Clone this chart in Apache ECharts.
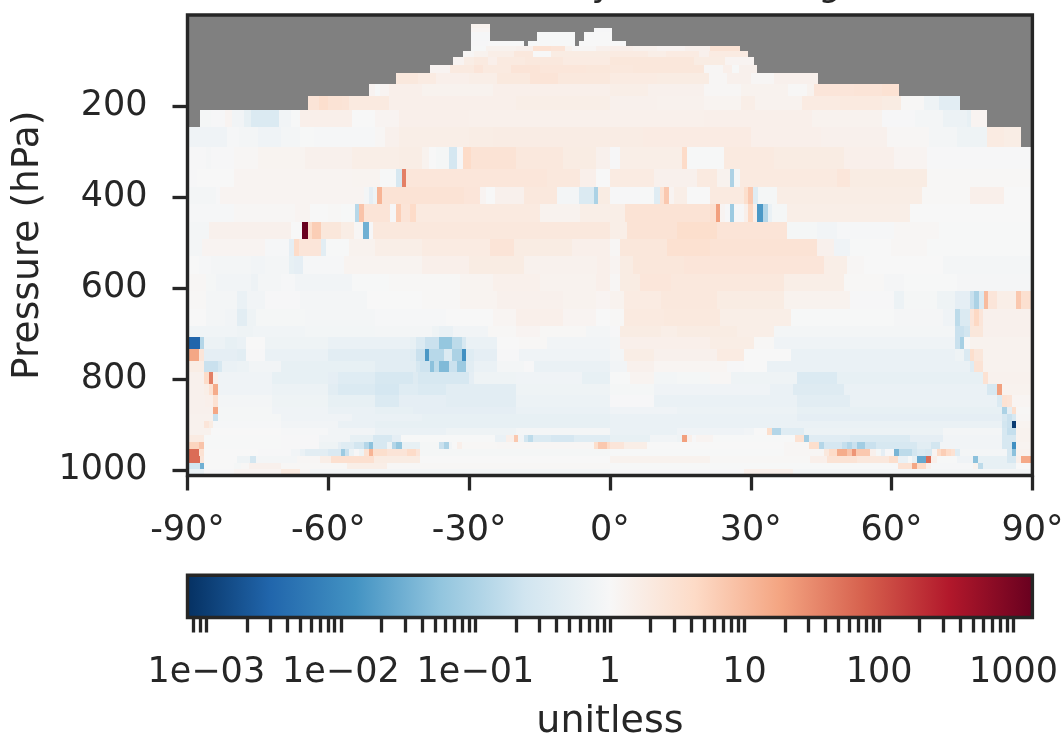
<!DOCTYPE html>
<html><head><meta charset="utf-8">
<style>html,body{margin:0;padding:0;background:#fff}#c{width:1063px;height:735px}</style>
<script src="https://cdn.jsdelivr.net/npm/echarts@6/dist/echarts.min.js"></script>
</head><body><div id="c"></div>
<script>
// Pressure edges of the rows (hPa), top to bottom
const pressureEdges=[19.8,28.6,37.4,57.8,68.1,79.1,92.3,109.9,127.5,151.6,178,208.8,246.2,290.1,338.5,378,415.4,454.9,492.3,529.7,569.2,606.6,646.2,683.5,707.7,734.1,760.4,784.6,811,835.2,861.5,876.9,892.3,907.7,923.1,938.5,953.8,969.2,984.6,997.8,1008.8];
const latTicks=[-90,-60,-30,0,30,60,90];
const pressureTicks=[200,400,600,800,1000];
const ratioLabels=[[0.001,'1e\u221203'],[0.01,'1e\u221202'],[0.1,'1e\u221201'],[1,'1'],[10,'10'],[100,'100'],[1000,'1000']];
const ratioLimit=1380;
// Each row: lat, ratio, lat, ratio, ..., final lat (null = no data)
const row00=[-29.5,1.3,-25.5];
const row01=[-29.5,1.15,-25.5,null,-3.4,.95,.4];
const row02=[-29.5,.93,-25.5,null,-15.5,.97,-7.5,null,-5.5,1,.4];
const row03=[-29.5,.95,-26,1,-18.4,null,-17.4,.97,-7.5,null,-6.5,1,3.5];
const row04=[-29.5,.97,-26.5,1.3,-20,1.4,-16.5,3,-12.5,2.6,-9.5,1.3,-8,1.1,-3,1.4,0,1.5,5,1.35,10,1.2,16,1.4,21.4,2.8,27.6];
const row05=[-31.4,1.1,-29,1.3,-26,1.6,-20.5,2.2,-16.5,1,-12.5,1.8,-5,1.8,0,1.9,8,1.6,12,1.9,19,1.4,21,1.9,29.5];
const row06=[-33.5,1.2,-31,1.7,-29,2,-26,1.5,-24,2,-18,2.2,-10,1.9,0,2.3,8,2.3,18,1.8,24.5,1.2,30.6];
const row07=[-38.4,1.2,-34,2,-29,2.5,-27,2,-21,2.6,-15,2.4,-5,2.3,0,2.2,5,2.3,20,1.1,24,1.5,26,.98,27.5,1.4,31.4];
const row08=[-45.5,2.2,-41,1.9,-37,1.5,-30,1.6,-24,2.1,-17,2.6,-11,2.2,0,1.9,10,1.8,21,1.1,25,1.4,30,1.1,35,1.4,44.4];
const row09=[-51.4,1.2,-50,.98,-49,1.2,-47,1.5,-40,1.3,-25,1.5,0,1.6,8,1.4,20,1.1,28,1.3,38,1.05,42,1.3,43.5,2.5,52,2.6,58,3,61.5];
const row10=[-64.4,2.6,-62,3.4,-60,2.8,-57,2.6,-55.5,2,-47,1.5,-20,1.6,0,1.4,10,1.35,20,1.25,28,1.6,31,1.3,41,1.9,49,2,58,1.8,62,1.05,67,.7,70,.45,74.5];
const row11=[-87.4,.9,-85,.95,-82,1.2,-80.5,.8,-78,.55,-76.5,.35,-70.5,.8,-68,.98,-66,1.5,-55,1,-50,1.2,-45,1.5,-30,1.45,0,1.45,20,1.5,28,1.5,43,1.3,58,.95,65,.85,71,.65,76,.55,77,1.2,80.4];
const row12=[-90,.75,-81.5,.93,-79,.85,-75,.75,-70,.85,-66,.97,-63,.93,-50,1.1,-48,1.4,-45,1.6,-30,1.7,-25,1.75,0,1.75,7,1.85,30,1.5,45,1.4,59,1.1,68,.85,74,.7,80.4,1.9,84,1.7,87.5];
const row13=[-90,.95,-86,.88,-85,.95,-80,1.1,-75,1.25,-65,1.4,-55,1.6,-45,1.7,-40,1.3,-38.5,1,-37,.9,-34.3,.27,-32.5,.95,-31.4,4,-29.5,2.8,-20,2.2,-10,1.8,-3,1.4,0,.95,2.2,1.6,15.4,4,16.4,.97,24.3,2,34.9,1.8,49.8,1.5,60.5,1.2,67.6,.95,90];
const row14=[-90,.95,-88,1,-80,1.2,-55,1.25,-49,.98,-45.5,.3,-44.4,40,-43.5,2.4,-13.4,2.2,-6.3,1.5,-3,1,0,1.9,9.3,1.4,18.6,2,22.8,1.3,25.5,.1,26.5,.9,27.8,2,48.4,2.4,51.2,1.8,67.6,1.05,90];
const row15=[-90,.85,-84,.95,-83,1.2,-52.4,.85,-51.4,.5,-50.5,.7,-49.6,12,-48.5,2.8,-31,2.5,-28.3,.95,-28.3,2.5,-27.6,1.2,-26.5,1,-24.4,1.4,-18.3,2.2,-11.2,.85,-6.6,.35,-3.4,.1,-2.5,1.8,0,.95,6.5,.98,9.3,.4,10.6,3,11.6,7,12.5,1.2,13.6,1.6,16.4,1,21.4,2,28.5,3.5,29.5,7,30.5,.4,31.5,.9,35.6,1.7,66.5,1.05,76.8,1.5,83.9,1,90];
const row16=[-90,.93,-80,1.1,-67,1.2,-63.8,1,-60,1.05,-57.4,.98,-54.4,.13,-53.4,8,-52.5,2.6,-46.8,.95,-45.5,6,-44.5,2.6,-42.5,4,-41.4,2,-14.8,1.3,-6.3,1.6,3.3,2.8,21.4,3.2,22.5,20,23.5,1.2,24.6,.95,25.5,.07,26.5,.95,28.5,1.5,29.5,4.5,30.5,1.5,31.4,.015,32.5,.12,33.6,.6,34.6,.9,37.7,1.6,64,1,90];
const row17=[-90,.85,-85.5,1.4,-68,1,-65.6,1300,-64.4,3.5,-63.4,6,-61.5,2.3,-57.4,1.7,-54.6,1.1,-52.6,.03,-51.4,.95,-50.5,2.2,0,1.6,3.6,2.8,14.3,3.5,22.8,2.6,37.7,.9,44.1,.8,48.4,.93,60.5,1.1,70,.98,90];
const row18=[-90,.85,-87,1.2,-73.4,.93,-68.4,.5,-67.4,4,-66.3,2.5,-61.5,.45,-60.4,.97,-55.6,1.3,-50,1.6,-40,1.9,-25.5,2.6,-20.5,1.8,-8,1.5,0,1.1,2.2,2.3,12.2,3.1,21.4,2.8,44.1,1.4,47.7,.75,51.2,.97,55.5,1,59.8,1.1,67.6,.98,90];
const row19=[-90,1,-87.5,.93,-85,.85,-76.5,.8,-73.4,.85,-68.4,.55,-67.4,.5,-65.5,.93,-56.7,1.25,-40,1.5,-30,1.8,-18.4,1.35,-2.7,1.5,0,1.2,2.2,1.8,5,2.3,15.7,2.5,45.6,1.6,50.5,1.1,54.1,1,71,.85,90];
const row20=[-90,1.1,-86,.9,-84,.8,-76.5,.68,-75,.85,-70,.93,-67,.8,-55,.97,-47,1.05,-32,1.25,-25,1.45,-15,1.3,-3,1.5,0,1.1,2.2,1.8,6.5,2.4,12.9,2.2,37,1.6,49.8,1.05,58.3,.88,62.6,.97,74,.88,90];
const row21=[-90,1.05,-86,.85,-79.4,.62,-77.3,.8,-73.4,.95,-66,.85,-51.7,1,-40,1.05,-32,1.25,-24,1.4,-10,1.3,-3,1.2,0,1.3,2.9,1.9,10.8,2.2,22.8,1.8,37,1.3,51.2,.95,60.5,.65,62.6,.9,69.7,.7,73.6,.5,76.6,.2,77.5,.1,78.6,.35,79.6,10,80.5,2.5,82.5,1.6,86.6,7,87.5,3.2,90];
const row22=[-90,1,-86,.85,-82,.8,-79.4,.45,-77.3,.7,-75.5,.9,-65,.85,-50,.93,-35,1,-25,1.15,-20,1.5,-10,1.2,-3,1,0,1.05,2.9,2,11.5,2.1,23.5,1.6,38.5,.97,60.5,.88,71,.75,73.6,.15,74.5,.35,76.6,2.5,77.5,4.5,78.6,2.5,79.5,1.4,90];
const row23=[-90,.78,-79.5,.7,-76,.78,-65,.82,-50,.85,-38,.72,-36.5,.62,-33.5,.8,-26,1.05,-20,1.2,-15,1.05,-5,.85,0,.95,2.2,1.8,10.8,1.6,14.3,1.8,27,1.6,34.9,.85,73.6,.2,75.5,.25,76.6,2.3,79.5,1.4,90];
const row24=[-90,.003,-87.4,.12,-86.4,.65,-82,.55,-79.5,.6,-77.5,1,-73.5,.7,-60,.62,-42.5,.55,-41.4,.35,-39.5,.2,-36.5,.06,-33.6,.15,-31.5,.3,-30.6,.6,-24,1,-19.4,1.05,-13.4,.8,0,.85,2.2,1.5,21.4,1.7,30.6,1.05,34.9,.75,73.6,.2,74.5,.09,75.5,1,76.6,1.3,90];
const row25=[-90,17,-87.5,2.5,-86.5,.5,-79.5,.45,-77.5,.95,-73.5,.6,-60,.45,-42.5,.4,-41.4,.2,-39.5,.015,-38.5,.13,-35.4,.35,-33.6,.1,-31.5,.012,-30.6,.4,-29,.5,-24,.95,-19.4,.75,0,.85,2.9,1.7,9.3,1.4,22.8,1.9,28.5,1,38.5,.6,73.6,.72,75.5,.35,76.6,3.5,77.5,2.3,79.5,1.3,90];
const row26=[-90,1.7,-86.4,.2,-83.5,.3,-82.6,.6,-79.5,.65,-77,.8,-70,.55,-50,.45,-41.4,.3,-40.4,.22,-38.4,.05,-37.4,.15,-36.5,.04,-34.3,.2,-32.5,.07,-30.6,.45,-29,.62,-24,.85,-18.4,.95,-16.2,.6,0,.8,3.6,1.4,9.3,1.15,25,.95,28.5,1,33.5,.6,76.6,.4,77.5,2.8,79.5,1.3,90];
const row27=[-90,1.4,-86.4,4,-85.5,40,-84.5,1.5,-83.5,.75,-72,.55,-60,.5,-58,.4,-50,.3,-42,.38,-41,.3,-30,.5,-29,.7,-20,.75,-6,.55,0,.97,4.3,1.25,9.3,.82,14.3,.9,21.4,1.1,25.7,.7,39.9,.35,48.4,.55,79.5,3,80.5,1.35,90];
const row28=[-90,1.4,-86.5,1.6,-85.5,3,-84.5,15,-83.5,.75,-72,.65,-60,.45,-58,.35,-50,.27,-45,.4,-41,.35,-35,.45,-20,.72,0,.9,9.3,.75,34,.6,39,.38,49.8,.6,80.4,.3,82.5,20,83.5,1.3,90];
const row29=[-90,1.4,-86.3,1.5,-84.5,3,-83.5,.85,-72,.7,-60,.55,-50,.35,-45,.5,-35,.45,-20,.65,0,.95,9.3,.6,39.9,.45,51.2,.62,82.5,.35,83.5,3,84.6,2.6,85.7,1.15,90];
const row30=[-90,1.4,-84.5,17,-83.5,.9,-72,.75,-60,.62,-50,.55,-42,.5,-20,.6,0,.75,14.3,.65,39.9,.55,83.5,.1,84.6,.5,85.7,3.5,86.6,1.05,90];
const row31=[-90,1.35,-84.5,.2,-83.5,.9,-70,.75,-55,.62,-40,.55,0,.6,39.9,.5,83.5,.3,84.6,.2,85.7,.3,86.6,1.1,90];
const row32=[-90,1.35,-86.4,2.5,-85.5,1.8,-84.5,.92,-70,.8,-58,.62,-50,.55,0,.6,83.5,.25,84.6,.2,85.7,.001,86.6,1.25,90];
const row33=[-90,1.35,-85,1,-70,.92,-60,.8,-50,.6,-35,.7,-20,.85,0,.6,14.3,.75,28.5,.8,30.6,1,33.5,3.5,34.5,.12,36.5,.4,41.3,.65,71,.85,83.5,.3,84.6,.18,86.6,1.3,90];
const row34=[-90,1.9,-86.4,.97,-70,.95,-62,.8,-55.4,.55,-50.4,.3,-46.4,.5,-44.6,.97,-24.4,.6,-22.2,1.5,-20.5,7,-19.5,.8,-18.4,.25,-17.4,.15,-16.5,.35,-12.5,.28,-7.7,.4,0,.55,8.6,.8,14.3,.7,15.4,20,16.5,1.5,17.5,.95,18.4,1.2,22,.97,39.5,3,41.3,.08,42.5,.42,51.2,.35,64,.5,71,.8,83.5,.3,86.6,1.3,90];
const row35=[-90,5,-87.5,8,-86.4,.97,-70,.95,-62,.7,-58,.5,-57.4,.4,-54.6,.25,-52.5,.12,-51.4,.05,-50.4,.3,-47.5,.7,-46.5,.12,-45.5,.06,-44.4,.55,-40.4,.9,-36.5,.2,-35.4,.1,-34.3,.8,-33.6,1,-32.5,1.5,-31.5,1.05,-24,1.1,-3.4,3.5,-2.5,7,-.6,4,0,2.5,3,1.6,7.9,1,37,1.1,42.5,3.5,44.5,.12,45.6,.28,49.5,.18,50.5,.12,51.6,.2,52.7,.08,54.4,.2,56.6,.3,65.4,.45,68.4,.25,70.4,.8,83.5,.3,85.7,.012,86.6,1.25,90];
const row36=[-90,60,-87.5,3,-86.4,1,-75,.95,-68,.8,-66,.6,-65,.45,-60,.33,-57.4,.07,-56.5,.2,-55.5,.65,-54.6,.95,-53.5,.7,-52.5,3,-51.4,12,-50.4,3.5,-47.5,2.6,-43.2,4,-41.4,2.5,-40.4,.9,0,.97,37,1.1,45.6,2.2,46.6,4,48.4,15,50.5,8,51.6,25,52.5,7,55.5,1.4,56.6,.9,57.7,.5,58.7,.95,60.5,.035,61.5,.15,64.4,.25,65.4,.35,67.2,.3,68.6,1.2,69.6,4,70.6,6,71.5,4,72.6,3,73.6,.4,74.5,.85,84.6,.3,85.7,.05,86.6,1.3,90];
const row37=[-90,60,-87.4,2.5,-86.4,1,-79.4,.7,-76.7,.25,-75.5,.85,-66.7,1.1,-61.7,1.6,-59.5,3.2,-50.3,1.8,-40.4,1,0,1.3,21.4,1.05,42.7,1.5,46.3,2.8,52.7,2.2,59.4,3.5,61.3,.6,63.6,.97,64.4,.55,65.4,.025,67.4,60,68.4,1.5,69.7,.97,74,.75,77.4,.05,78.5,.55,84.6,.3,86.6,1.5,87.5,16,90];
const row38=[-90,.25,-87.4,.03,-86.4,1,-80,.9,-78.5,1.05,-77,1.4,-70,1.05,-56,1.6,-47.5,1.05,0,.97,61.3,3,64.4,17,65.4,4,67.4,1.4,68.4,.92,77.4,1.3,78.5,.15,79.5,.55,86.6,1,90];
const row39=[-90,.6,-86.5,.95,-80,1.2,-70,2,-66,1.1,-63.8,.85,0,.95,28.5,1.5,39,.85,90];
const allRows=[row00,row01,row02,row03,row04,row05,row06,row07,row08,row09,row10,row11,row12,row13,row14,row15,row16,row17,row18,row19,row20,row21,row22,row23,row24,row25,row26,row27,row28,row29,row30,row31,row32,row33,row34,row35,row36,row37,row38,row39];

const cmap=['#053061','#2166ac','#4393c3','#92c5de','#d1e5f0','#f7f7f7','#fddbc7','#f4a582','#d6604d','#b2182b','#67001f'];
const logMax=Math.log10(ratioLimit);
function hex(c){return [1,3,5].map(i=>parseInt(c.substr(i,2),16));}
function colorOf(v){
  let t=(Math.log10(v)+logMax)/(2*logMax);
  t=Math.max(0,Math.min(1,t))*(cmap.length-1);
  const i=Math.min(cmap.length-2,Math.floor(t)),f=t-i,a=hex(cmap[i]),b=hex(cmap[i+1]);
  return 'rgb('+a.map((x,k)=>Math.round(x+(b[k]-x)*f)).join(',')+')';
}
const cells=[];
allRows.forEach((r,k)=>{
  for(let i=0;i+2<r.length;i+=2){
    if(r[i+1]===null||r[i+2]<=r[i])continue;
    cells.push([r[i],r[i+2],pressureEdges[k],pressureEdges[k+1],r[i+1]]);
  }
});
const ink='#262626';
const font='"DejaVu Sans"';
const tickVals=[];
for(let e=-4;e<=3;e++)for(let m=1;m<10;m++){const v=Math.log10(m)+e;if(Math.abs(v)<=logMax&&v<=3.001)tickVals.push(v);}
const labelVals=ratioLabels.map(d=>Math.log10(d[0]));
function rectItem(params,api){
  const a=api.coord([api.value(0),api.value(2)]),b=api.coord([api.value(1),api.value(3)]);
  const x0=Math.round(a[0]),x1=Math.round(b[0]),y0=Math.round(a[1]),y1=Math.round(b[1]);
  return {type:'rect',shape:{x:x0,y:y0,width:x1-x0,height:y1-y0},style:{fill:colorOf(api.value(4))}};
}
const chart=echarts.init(document.getElementById('c'),null,{renderer:'canvas'});
chart.setOption({
  animation:false,
  backgroundColor:'#fff',
  title:{text:'Ratio, Dev, Dry Mass Mixing',left:343,top:-31,padding:0,textStyle:{fontFamily:font,fontSize:35.5,fontWeight:'normal',color:ink}},
  grid:[
    {left:187.5,right:30.6,top:15,height:460.5,show:true,backgroundColor:'#808080',borderWidth:0,outerBoundsMode:'none'},
    {left:187.5,right:30.6,top:575.3,height:42.2,show:false,outerBoundsMode:'none'}
  ],
  xAxis:[
    {gridIndex:0,type:'value',position:'bottom',min:-90,max:90,interval:30,z:5,splitLine:{show:false},
     axisLine:{show:false,onZero:false},axisTick:{length:15,lineStyle:{color:ink,width:3.3}},
     axisLabel:{margin:38,fontFamily:font,fontSize:35,color:ink,hideOverlap:false,showMinLabel:true,showMaxLabel:true,formatter:v=>v+'\u00b0'}},
    {gridIndex:1,type:'value',position:'bottom',min:-logMax,max:logMax,z:5,splitLine:{show:false},axisLine:{show:false,onZero:false},
     axisTick:{customValues:tickVals,length:15,lineStyle:{color:ink,width:3.3}},
     axisLabel:{customValues:labelVals,margin:38,fontFamily:font,fontSize:35,color:ink,hideOverlap:false,
       formatter:v=>{const d=ratioLabels.find(x=>Math.abs(Math.log10(x[0])-v)<1e-6);return d?d[1]:'';}},
     name:'unitless',nameLocation:'middle',nameGap:86,nameTextStyle:{fontFamily:font,fontSize:38,color:ink}}
  ],
  yAxis:[
    {gridIndex:0,type:'value',position:'left',inverse:true,min:0,max:1012,z:5,splitLine:{show:false},axisLine:{show:false,onZero:false},
     axisTick:{customValues:pressureTicks,length:15,lineStyle:{color:ink,width:3.3}},
     axisLabel:{customValues:pressureTicks,margin:40,padding:[5,0,0,0],fontFamily:font,fontSize:35,color:ink,hideOverlap:false,formatter:v=>String(v)},
     name:'Pressure (hPa)',nameLocation:'middle',nameRotate:90,nameGap:138,nameTextStyle:{fontFamily:font,fontSize:37.6,color:ink}},
    {gridIndex:1,type:'value',min:0,max:1,show:false}
  ],
  series:[
    {type:'custom',xAxisIndex:0,yAxisIndex:0,clip:true,z:2,silent:true,data:cells,renderItem:rectItem,encode:{x:[0,1],y:[2,3]}},
    {type:'custom',xAxisIndex:0,yAxisIndex:0,clip:false,z:6,silent:true,data:[[-90,90,0,1012]],encode:{x:[0,1],y:[2,3]},
     renderItem:(p,api)=>{const a=api.coord([api.value(0),api.value(2)]),b=api.coord([api.value(1),api.value(3)]);
       return {type:'rect',shape:{x:a[0],y:a[1],width:b[0]-a[0],height:b[1]-a[1]},style:{fill:'none',stroke:ink,lineWidth:3.4}};}},
    {type:'custom',xAxisIndex:1,yAxisIndex:1,clip:false,z:6,silent:true,data:[[-logMax,logMax,0,1]],encode:{x:[0,1],y:[2,3]},
     renderItem:(p,api)=>{const a=api.coord([api.value(0),api.value(2)]),b=api.coord([api.value(1),api.value(3)]);
       const stops=cmap.map((c,i)=>({offset:i/(cmap.length-1),color:c}));
       return {type:'rect',shape:{x:a[0],y:b[1],width:b[0]-a[0],height:a[1]-b[1]},
         style:{fill:new echarts.graphic.LinearGradient(0,0,1,0,stops),stroke:ink,lineWidth:3.4}};}}
  ]
});
</script></body></html>
